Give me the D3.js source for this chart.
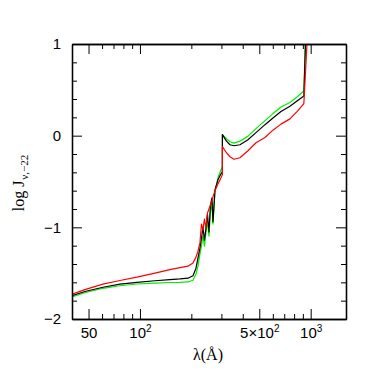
<!DOCTYPE html>
<html><head><meta charset="utf-8">
<script src="https://cdn.jsdelivr.net/npm/d3@7"></script>
<style>body{margin:0;background:#fff}</style>
</head><body><svg id="c" width="390" height="390"></svg>
<script>
// ---- data ----
const lambdaRed = [40,47.6,60.7,76.3,96,122.4,149.9,171.5,191.1,204.5,212.9,218.7,224.6,229.3,233.9,238.7,243.6,248.6,253.6,258.8,264.1,267.7,275,286.4,298.3,304,304,321.2,336.6,355.3,385.3,429.3,478.3,540,601.3,669.9,756.3,831.5,912,951,975];
const logJRed   = [-1.73,-1.68,-1.62,-1.58,-1.544,-1.50,-1.462,-1.44,-1.424,-1.39,-1.325,-1.26,-1.17,-0.964,-1.03,-0.91,-1.008,-0.843,-0.80,-0.756,-0.712,-0.668,-0.602,-0.526,-0.46,-0.427,-0.12,-0.186,-0.23,-0.257,-0.241,-0.164,-0.077,-0.02,0.06,0.126,0.183,0.263,0.35,1.0,1.2];

const lambdaBlack = [40,47.6,60.7,76.3,96,122.4,149.9,171.5,191.1,204.5,212.9,218.7,224.6,229.3,233.9,238.7,243.6,248.6,253.6,258.8,264.1,267.7,275,286.4,298.3,304,304,321.2,336.6,355.3,385.3,429.3,478.3,540,601.3,669.9,756.3,831.5,912,932,950];
const logJBlack   = [-1.745,-1.70,-1.654,-1.62,-1.60,-1.583,-1.57,-1.563,-1.555,-1.528,-1.446,-1.336,-1.227,-1.117,-0.997,-1.139,-1.008,-0.854,-1.051,-0.756,-0.679,-0.942,-0.591,-0.482,-0.416,-0.394,0.011,-0.06,-0.099,-0.11,-0.099,-0.044,0.033,0.12,0.192,0.263,0.321,0.378,0.433,1.0,1.2];

const lambdaGreen = [40,47.6,60.7,76.3,96,122.4,149.9,171.5,191.1,204.5,212.9,218.7,224.6,229.3,233.9,238.7,243.6,248.6,253.6,258.8,264.1,267.7,275,286.4,298.3,304,304,321.2,336.6,355.3,385.3,429.3,478.3,540,601.3,669.9,756.3,831.5,912,930,948];
const logJGreen   = [-1.76,-1.714,-1.665,-1.637,-1.618,-1.608,-1.602,-1.60,-1.596,-1.577,-1.51,-1.424,-1.292,-1.205,-1.095,-1.205,-1.062,-0.931,-1.095,-0.832,-0.723,-0.964,-0.613,-0.46,-0.372,-0.34,0.011,-0.033,-0.066,-0.082,-0.06,-0.005,0.077,0.164,0.241,0.312,0.361,0.422,0.487,1.0,1.2];

const xMajorTicks = [50,100,500,1000];
const xMinorTicks = [60,70,80,90,200,300,400,600,700,800,900];
const xTickLabels = ["50","10|2","5×10|2","10|3"];
const yMajorTicks = [-2,-1,0,1];
const yMinorTicks = [-1.8,-1.6,-1.4,-1.2,-0.8,-0.6,-0.4,-0.2,0.2,0.4,0.6,0.8];
const yTickLabels = ["−2","−1","0","1"];

// ---- layout ----
const L=72,R=346,T=44,B=319;
const svg=d3.select("#c");
const x=d3.scaleLog().domain([40,1610]).range([L,R]);
const y=d3.scaleLinear().domain([-2,1]).range([B,T]);

svg.append("defs").append("clipPath").attr("id","clip")
  .append("rect").attr("x",L).attr("y",T).attr("width",R-L).attr("height",B-T);

const line=d3.line().x(d=>x(d[0])).y(d=>y(d[1]));
const series=[
  {l:lambdaGreen,v:logJGreen,c:"#00ee00"},
  {l:lambdaBlack,v:logJBlack,c:"#000000"},
  {l:lambdaRed,v:logJRed,c:"#ff0000"}
];
const g=svg.append("g").attr("clip-path","url(#clip)");
series.forEach(s=>{
  g.append("path").datum(s.l.map((d,i)=>[d,s.v[i]]))
   .attr("d",line).attr("fill","none").attr("stroke",s.c).attr("stroke-width",1.2)
   .attr("stroke-linejoin","round");
});

function styleAxis(sel){
  sel.select(".domain").attr("stroke","#000").attr("stroke-width",1.3);
  sel.selectAll(".tick line").attr("stroke","#000").attr("stroke-width",1);
  sel.selectAll("text").attr("font-family","'Liberation Sans',Arial,sans-serif").attr("font-size",15).attr("fill","#000");
}
function supLabels(sel,labels){
  sel.selectAll(".tick text").each(function(d,i){
    const t=d3.select(this); t.text("");
    const parts=labels[i].split("|");
    t.append("tspan").text(parts[0]);
    if(parts[1]) t.append("tspan").attr("font-size",10).attr("dy","-0.55em").text(parts[1]);
  });
}

// bottom
const bx=svg.append("g").attr("transform",`translate(0,${B})`)
  .call(d3.axisBottom(x).tickValues(xMajorTicks).tickSizeInner(-10).tickSizeOuter(0).tickPadding(8).tickFormat((d,i)=>xTickLabels[i]));
styleAxis(bx); supLabels(bx,xTickLabels);
const bxm=svg.append("g").attr("transform",`translate(0,${B})`)
  .call(d3.axisBottom(x).tickValues(xMinorTicks).tickSizeInner(-5).tickSizeOuter(0).tickFormat(""));
styleAxis(bxm);
// top
const tx=svg.append("g").attr("transform",`translate(0,${T})`)
  .call(d3.axisTop(x).tickValues(xMajorTicks).tickSizeInner(-10).tickSizeOuter(0).tickFormat(""));
styleAxis(tx);
const txm=svg.append("g").attr("transform",`translate(0,${T})`)
  .call(d3.axisTop(x).tickValues(xMinorTicks).tickSizeInner(-5).tickSizeOuter(0).tickFormat(""));
styleAxis(txm);
// left
const ly=svg.append("g").attr("transform",`translate(${L},0)`)
  .call(d3.axisLeft(y).tickValues(yMajorTicks).tickSizeInner(-10).tickSizeOuter(0).tickPadding(11).tickFormat((d,i)=>yTickLabels[i]));
styleAxis(ly);
const lym=svg.append("g").attr("transform",`translate(${L},0)`)
  .call(d3.axisLeft(y).tickValues(yMinorTicks).tickSizeInner(-5).tickSizeOuter(0).tickFormat(""));
styleAxis(lym);
// right
const ry=svg.append("g").attr("transform",`translate(${R},0)`)
  .call(d3.axisRight(y).tickValues(yMajorTicks).tickSizeInner(-10).tickSizeOuter(0).tickFormat(""));
styleAxis(ry);
const rym=svg.append("g").attr("transform",`translate(${R},0)`)
  .call(d3.axisRight(y).tickValues(yMinorTicks).tickSizeInner(-5).tickSizeOuter(0).tickFormat(""));
styleAxis(rym);

// axis titles
svg.append("text").attr("x",208).attr("y",360).attr("text-anchor","middle")
  .attr("font-family","'Liberation Serif','Times New Roman',serif").attr("font-size",16)
  .text("λ(Å)");
const yl=svg.append("text").attr("transform","translate(24,183) rotate(-90)").attr("text-anchor","middle")
  .attr("font-family","'Liberation Serif','Times New Roman',serif").attr("font-size",16);
yl.append("tspan").text("log J");
yl.append("tspan").attr("font-size",11).attr("dy","0.35em").attr("dx","1").text("ν,−22");
</script></body></html>
